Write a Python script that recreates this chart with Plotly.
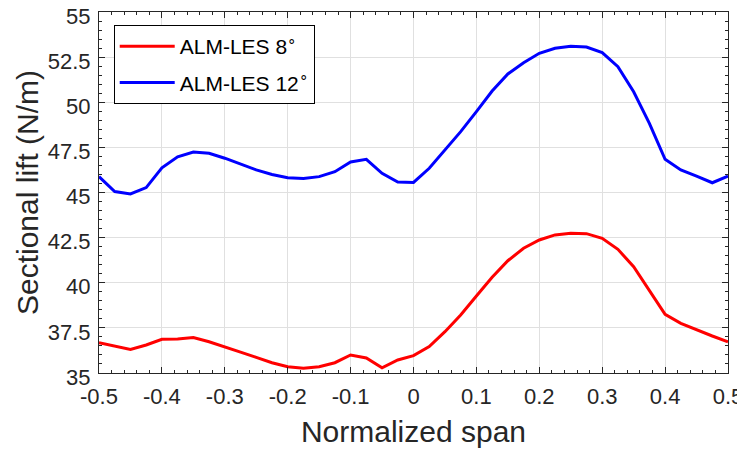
import plotly.graph_objects as go

span = [-0.5, -0.475, -0.45, -0.425, -0.4, -0.375, -0.35, -0.325, -0.3, -0.275,
        -0.25, -0.225, -0.2, -0.175, -0.15, -0.125, -0.1, -0.075, -0.05, -0.025,
        0.0, 0.025, 0.05, 0.075, 0.1, 0.125, 0.15, 0.175, 0.2, 0.225,
        0.25, 0.275, 0.3, 0.325, 0.35, 0.375, 0.4, 0.425, 0.45, 0.475, 0.5]

lift_8 = [36.68, 36.50, 36.31, 36.55, 36.87, 36.88, 36.96, 36.73, 36.46, 36.16,
          35.87, 35.57, 35.35, 35.26, 35.35, 35.57, 36.00, 35.83, 35.29, 35.72,
          35.96, 36.46, 37.29, 38.21, 39.27, 40.30, 41.22, 41.91, 42.37, 42.65,
          42.74, 42.72, 42.46, 41.85, 40.89, 39.60, 38.25, 37.75, 37.38, 37.05, 36.73]

lift_12 = [45.88, 45.05, 44.92, 45.27, 46.37, 46.98, 47.24, 47.17, 46.90, 46.56,
           46.25, 46.00, 45.82, 45.77, 45.88, 46.15, 46.69, 46.84, 46.06, 45.58,
           45.56, 46.34, 47.35, 48.37, 49.48, 50.62, 51.57, 52.19, 52.71, 52.99,
           53.10, 53.06, 52.75, 51.97, 50.58, 48.83, 46.84, 46.25, 45.91, 45.54, 45.91]

x_ticks = [-0.5, -0.4, -0.3, -0.2, -0.1, 0, 0.1, 0.2, 0.3, 0.4, 0.5]
x_labels = ["-0.5", "-0.4", "-0.3", "-0.2", "-0.1", "0", "0.1", "0.2", "0.3", "0.4", "0.5"]
y_ticks = [35, 37.5, 40, 42.5, 45, 47.5, 50, 52.5, 55]
y_labels = ["35", "37.5", "40", "42.5", "45", "47.5", "50", "52.5", "55"]

series_names = ["ALM-LES 8<sup>∘</sup>", "ALM-LES 12<sup>∘</sup>"]

FONT = "Liberation Sans, Arial, Helvetica, sans-serif"
AX = "#262626"

fig = go.Figure()
fig.add_trace(go.Scatter(x=span, y=lift_8, mode="lines", name=series_names[0],
                         legendgroup="a",
                         line=dict(color="#ff0000", width=3)))
fig.add_trace(go.Scatter(x=span, y=lift_12, mode="lines", name=series_names[1],
                         legendgroup="b",
                         line=dict(color="#0000ff", width=3)))

axis_common = dict(
    showline=True, linecolor=AX, linewidth=1, mirror="allticks",
    ticks="inside", ticklen=6, tickcolor=AX, tickwidth=1,
    showgrid=True, gridcolor="#e0e0e0", gridwidth=1,
    zeroline=False, automargin=False, ticklabeloverflow="allow",
    tickfont=dict(family=FONT, size=22, color=AX),
)

fig.update_xaxes(range=[-0.5, 0.5], tickvals=x_ticks, ticktext=x_labels,
                 ticklabelstandoff=4,
                 title=dict(text="Normalized span", font=dict(family=FONT, size=30, color=AX), standoff=12),
                 minor=dict(ticks="inside", dtick=0.02, ticklen=3, tickcolor=AX, showgrid=False),
                 **axis_common)
fig.update_yaxes(range=[35, 55], tickvals=y_ticks, ticktext=y_labels,
                 ticklabelstandoff=3, ticklabelshift=4,
                 title=dict(text="Sectional lift (N/m)", font=dict(family=FONT, size=30, color=AX), standoff=0),
                 minor=dict(ticks="inside", dtick=0.5, ticklen=3, tickcolor=AX, showgrid=False),
                 **axis_common)

# the page body adds an 8px offset, so the figure is sized to fit the window
fig.update_layout(
    width=737, height=444,
    margin=dict(l=91, r=17, t=4, b=79),
    paper_bgcolor="white", plot_bgcolor="white",
    font=dict(family=FONT, color=AX),
    showlegend=True,
    legend=dict(x=0.0234, y=0.964, xanchor="left", yanchor="top",
                bgcolor="white", bordercolor="#000000", borderwidth=1,
                font=dict(family=FONT, size=21, color="#000000"),
                itemwidth=55, tracegroupgap=6),
)

fig.write_html("out.html")
